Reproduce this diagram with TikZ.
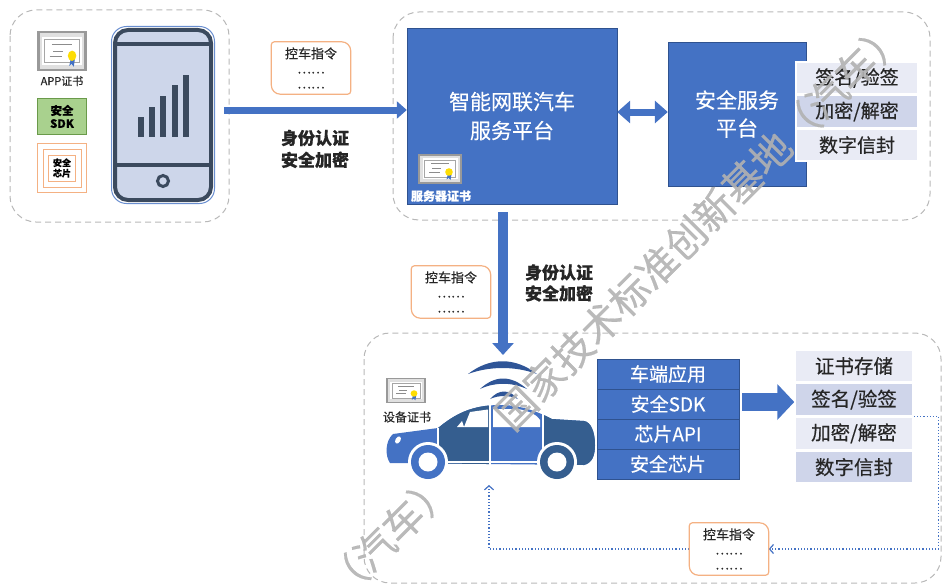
\documentclass[tikz,border=0pt]{standalone}
\usepackage{fontspec}
\setmainfont{Noto Sans CJK SC}[FakeBold=0.4]
\usetikzlibrary{arrows.meta,calc}
\definecolor{kblue}{HTML}{4472C4}
\definecolor{kedge}{HTML}{2F528F}
\definecolor{kdark}{HTML}{355E8F}
\definecolor{kwave}{HTML}{2F5597}
\definecolor{krowa}{HTML}{E9EBF5}
\definecolor{krowb}{HTML}{CFD5EA}
\definecolor{knote}{HTML}{F4B183}
\definecolor{kphone}{HTML}{CDD6EA}
\definecolor{kphdark}{HTML}{3B4A5E}
\definecolor{kgreen}{HTML}{A9D18E}
\definecolor{kgreenedge}{HTML}{6A9A4A}
\definecolor{ktext}{HTML}{262626}
\newcommand{\fs}[2]{\fontsize{#1}{#2}\selectfont}
\tikzset{
  frame/.style={draw=black!28,line width=1pt,dash pattern=on 6pt off 4pt,rounded corners=26pt},
  bluebox/.style={draw=kedge,fill=kblue,text=white,align=center,inner sep=0pt},
  listrow/.style={draw=white,line width=1.5pt,text=ktext,inner sep=0pt,minimum height=32pt},
  cmdbox/.style={minimum width=79pt,minimum height=52pt,inner sep=0pt,align=center,text=ktext,font=\fs{13}{15}},
  cmdline/.style={draw=knote,line width=1.2pt},
  authtext/.style={text=ktext,align=center,font=\fs{17}{22}\bfseries},
  cert/.pic={
    \fill[black!40] (-22,-15) rectangle (22,15);
    \fill[black!12] (-20,-13) rectangle (20,13);
    \fill[white] (-17.5,-10.5) rectangle (17.5,10.5);
    \draw[black!35,line width=0.4pt] (-15.5,-8.5) rectangle (15.5,8.5);
    \draw[black!45,line width=0.9pt] (-9,-5) -- (9,-5) (-8,0) -- (1,0) (-11,4) -- (0,4);
    \fill[kblue] (8,5) -- (6.5,11) -- (8.5,9.5) -- (10.5,11.5) -- (11.5,6) -- cycle;
    \fill[yellow!80!orange] (9,3.5) circle (3.8);
  }
}
\begin{document}
\begin{tikzpicture}[x=1pt,y=-1pt]
\useasboundingbox (0,0) rectangle (944,586);
\draw[frame] (10,10) rectangle (229,222);
\draw[frame] (393,12) rectangle (930,220);
\draw[frame] (364,333) rectangle (941,583);
%phone
\draw[kblue!80,line width=1pt,rounded corners=15pt] (111.5,26.5) rectangle (214.5,203.5);
\node[draw=kphdark,fill=kphone,line width=4pt,rounded corners=13pt,minimum width=96pt,minimum height=170pt,inner sep=0pt] (phone) at (163,115) {};
\draw[kphdark,line width=3.5pt] (115,44) -- (211,44) (115,165) -- (211,165);
\draw[kphdark,line width=3pt] (163,181) circle (5.5);
\foreach \kb/\kh in {0/20,1/30,2/41,3/52,4/62}{\fill[kphdark] (138+\kb*11.2,137) rectangle ++(6,-\kh);}
\pic[xscale=1.12,yscale=1.36] at (62,51) {cert};
\node[text=ktext,font=\fs{11}{11}] (appcert) at (62,81) {APP证书};
\node[draw=kgreenedge,fill=kgreen,line width=1pt,minimum width=49pt,minimum height=36pt,inner sep=0pt,align=center,font=\fs{11.5}{13}\bfseries] (appsdk) at (62,116.5) {安全\\SDK};
\node[draw=knote,line width=1pt,minimum width=49pt,minimum height=49pt] (appchip) at (62,168) {};
\node[draw=knote,line width=1pt,minimum width=38pt,minimum height=38pt] (chipmid) at (appchip) {};
\node[draw=knote,line width=1pt,minimum width=27pt,minimum height=26pt,inner sep=0pt,align=center,font=\fs{9}{10.5}\bfseries] (chipin) at (appchip) {安全\\芯片};
%platform
\node[bluebox,minimum width=210pt,minimum height=176pt,font=\fs{21}{29}] (plat) at (512,116) {智能网联汽车\\服务平台};
\pic at (440,168.5) {cert};
\node[text=white,font=\fs{12}{12}\bfseries] (srvcert) at (441,196) {服务器证书};
\node[bluebox,minimum width=138pt,minimum height=144pt,font=\fs{21}{28}] (sec) at (737,114) {安全服务\\平台};
\foreach \nm/\txt/\ky/\fc in {tsign/{签名/验签}/78/krowa,tenc/{加密/解密}/111.5/krowb,tenv/数字信封/145/krowa}
{\node[listrow,fill=\fc,minimum width=122pt,font=\fs{19}{19}] (\nm) at (857,\ky) {\txt};}
\coordinate (kph) at ($(phone.east)+(11,-5)$);
\draw[line width=7pt,kblue,-{Triangle[length=10pt,width=17pt]}] (kph) -- (kph -| plat.west);
\node[cmdbox] (cmd1) at (311,68) {控车指令\\……\\……};
\node[authtext] (auth1) at (315,149) {身份认证\\安全加密};
\coordinate (kdl) at ($(plat.east)+(0,-4)$);
\draw[line width=7pt,kblue,{Triangle[length=13pt,width=22pt]}-{Triangle[length=13pt,width=22pt]}] (kdl) -- (kdl -| sec.west);
%down to the car
\coordinate (carsig) at (503,355);
\draw[line width=10pt,kblue,-{Triangle[length=12pt,width=21pt]}] ($(plat.south -| carsig)+(0,8)$) -- (carsig);
\node[cmdbox] (cmd2) at (451,292) {控车指令\\……\\……};
\node[authtext,font=\fs{17}{21}\bfseries] (auth2) at (559,283) {身份认证\\安全加密};
%car
\begin{scope}
\clip (390,463) .. controls (385,456) and (385,441) .. (393,434) -- (438,428) .. controls (455,414) and (472,405) .. (500,405) .. controls (522,405) and (538,412) .. (552,419) -- (584,421) .. controls (591,422) and (595,432) .. (595,445) .. controls (595,456) and (592,463) .. (584,465) -- cycle;
\fill[kblue] (380,400) rectangle (600,470);
\fill[kdark] (438,400) rectangle (490,470) (543,400) rectangle (600,470);
\end{scope}
\draw[white,line width=1.3pt] (438,428) -- (438,466) (490,405) -- (490,466) (543,414) -- (543,466) (440,462) -- (545,462);
\fill[white] (470,412) -- (488,409.5) -- (488,427) -- (464,427) -- cycle;
\fill[white] (493,409) -- (518,409) .. controls (530,411) and (538,416) .. (540,420) -- (540,427) -- (493,427) -- cycle;
\fill[white] (462,421) -- (464,427) -- (457,427) -- cycle;
\fill[white,rotate around={-30:(398,440)}] (398,440) ellipse (2.5 and 4);
\foreach \kx/\kc in {428/kblue,557/kdark}{\fill[white] (\kx,462) circle (20); \fill[\kc] (\kx,462) circle (17); \fill[white] (\kx,462) circle (9.5);}
\fill[kwave] (468,374) .. controls (490,357) and (515,357) .. (537,374) .. controls (515,366) and (490,366) .. (468,374) -- cycle;
\fill[kwave] (480,389) .. controls (495,375) and (511,375) .. (527,389) .. controls (511,382) and (495,382) .. (480,389) -- cycle;
\fill[kwave] (490,399) .. controls (499,389) and (509,389) .. (518,399) .. controls (509,395) and (499,395) .. (490,399) -- cycle;
\pic[xscale=0.89,yscale=0.85] at (406,390.5) {cert};
\node[text=ktext,font=\fs{12}{12}] (devcert) at (407,417) {设备证书};
\foreach \nm/\txt/\ky in {capp/车端应用/374,csdk/安全SDK/404,capi/芯片API/434,cchip/安全芯片/464}
{\node[bluebox,minimum width=142pt,minimum height=30pt,font=\fs{19}{19}] (\nm) at (668,\ky) {\txt};}
\foreach \nm/\txt/\ky/\fc in {lstore/证书存储/366/krowa,lsign/{签名/验签}/399.7/krowb,lenc/{加密/解密}/433.4/krowa,lenv/数字信封/467.1/krowb}
{\node[listrow,fill=\fc,minimum width=118pt,font=\fs{19.5}{19.5}] (\nm) at (854,\ky) {\txt};}
\coordinate (kba) at ($(csdk.east)+(3,-2)$);
\draw[line width=18pt,kblue,-{Triangle[length=17pt,width=35pt]}] (kba) -- (kba -| lsign.west);
\node[cmdbox] (cmd3) at (729,549) {控车指令\\……\\……};
\coordinate (carin) at (489,485);
\draw[kblue,line width=1.2pt,dotted,-{Straight Barb[length=4pt,width=9pt]}] (lsign.south east) -- ++(25,0) |- (cmd3.east);
\draw[kblue,line width=1.2pt,dotted,-{Straight Barb[length=4pt,width=9pt]}] (cmd3.west) -| (carin);
\foreach \nm in {cmd1,cmd2,cmd3}{\draw[cmdline] (\nm.west) [rounded corners=3pt] -- (\nm.north west) [rounded corners=9pt] -- (\nm.north east) [rounded corners=3pt] -- (\nm.south east) [rounded corners=9pt] -- (\nm.south west) [rounded corners=3pt] -- cycle;}
%\draw[help lines] (0,0) grid[step=50] (944,586);
\node[rotate=45,text=black!30,text opacity=0.9,font=\fs{40}{40}] (mark) at (615,309) {（汽车）\hspace{2em}国家技术标准创新基地（汽车）};
\end{tikzpicture}
\end{document}
